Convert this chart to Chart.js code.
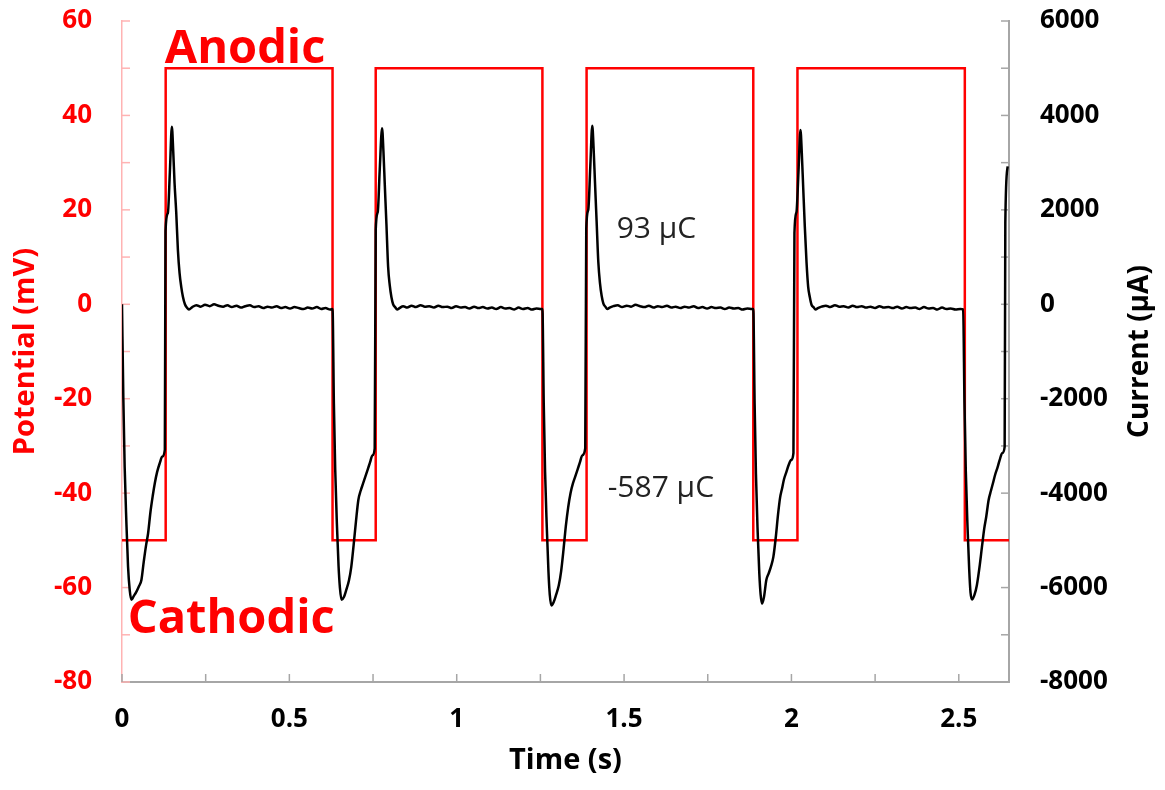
<!DOCTYPE html>
<html>
<head>
<meta charset="utf-8">
<script src="https://cdn.jsdelivr.net/npm/chart.js@4.4.1/dist/chart.umd.min.js"></script>
<style>
  body { margin: 0; background: #fff; }
</style>
</head>
<body>
<canvas id="myChart" width="1165" height="790"></canvas>
<script>
// square wave potential (mV): each value holds until the next time
const potentialTime = [0, 0.1305, 0.629, 0.758, 1.256, 1.388, 1.886, 2.018, 2.518, 2.65];
const potentialMv = [-50, 50, -50, 50, -50, 50, -50, 50, -50, -50];

// measured current (µA), one row per phase
const currentTime = [
  0, 0.004, 0.008, 0.013, 0.018, 0.023, 0.028, 0.035, 0.042, 0.050, 0.058, 0.065, 0.072, 0.078, 0.085, 0.092, 0.098, 0.105, 0.113, 0.120, 0.128,
  0.130, 0.137, 0.143, 0.149, 0.153, 0.157, 0.162, 0.167, 0.172, 0.177, 0.182, 0.188, 0.194, 0.200,
  0.210, 0.222, 0.235, 0.248, 0.262, 0.275, 0.288, 0.302, 0.315, 0.328, 0.342, 0.355, 0.368, 0.382, 0.395, 0.408, 0.422, 0.435, 0.448, 0.462, 0.475, 0.488, 0.502, 0.515, 0.528, 0.542, 0.555, 0.568, 0.582, 0.595, 0.608, 0.622,
  0.629, 0.633, 0.637, 0.642, 0.647, 0.651, 0.656, 0.663, 0.670, 0.678, 0.685, 0.692, 0.699, 0.706, 0.713, 0.720, 0.727, 0.734, 0.741, 0.748, 0.755,
  0.758, 0.764, 0.770, 0.777, 0.781, 0.785, 0.790, 0.795, 0.800, 0.805, 0.810, 0.816, 0.822, 0.829,
  0.840, 0.852, 0.865, 0.878, 0.892, 0.905, 0.918, 0.932, 0.945, 0.958, 0.972, 0.985, 0.998, 1.012, 1.025, 1.038, 1.052, 1.065, 1.078, 1.092, 1.105, 1.118, 1.132, 1.145, 1.158, 1.172, 1.185, 1.198, 1.212, 1.225, 1.238, 1.252,
  1.256, 1.260, 1.264, 1.269, 1.274, 1.278, 1.283, 1.290, 1.297, 1.305, 1.312, 1.319, 1.326, 1.333, 1.340, 1.347, 1.354, 1.361, 1.368, 1.375, 1.384,
  1.387, 1.393, 1.399, 1.405, 1.409, 1.413, 1.418, 1.423, 1.428, 1.433, 1.438, 1.444, 1.450, 1.457,
  1.468, 1.481, 1.494, 1.508, 1.521, 1.534, 1.548, 1.561, 1.574, 1.588, 1.601, 1.614, 1.628, 1.641, 1.654, 1.668, 1.681, 1.694, 1.708, 1.721, 1.734, 1.748, 1.761, 1.774, 1.788, 1.801, 1.814, 1.828, 1.841, 1.854, 1.868, 1.882,
  1.886, 1.890, 1.894, 1.899, 1.904, 1.908, 1.912, 1.918, 1.925, 1.932, 1.939, 1.946, 1.953, 1.960, 1.966, 1.972, 1.978, 1.985, 1.992, 1.999, 2.006,
  2.009, 2.015, 2.021, 2.027, 2.031, 2.035, 2.040, 2.045, 2.050, 2.055, 2.060, 2.066, 2.072, 2.079,
  2.090, 2.103, 2.116, 2.130, 2.143, 2.156, 2.170, 2.183, 2.196, 2.210, 2.223, 2.236, 2.250, 2.263, 2.276, 2.290, 2.303, 2.316, 2.330, 2.343, 2.356, 2.370, 2.383, 2.396, 2.410, 2.423, 2.436, 2.450, 2.463, 2.476, 2.490, 2.505,
  2.513, 2.517, 2.521, 2.526, 2.531, 2.535, 2.540, 2.547, 2.554, 2.562, 2.569, 2.576, 2.582, 2.589, 2.596, 2.602, 2.609, 2.616, 2.622, 2.630, 2.637, 2.639, 2.646
];
const currentUa = [
  0, -2000, -3450, -4600, -5550, -6050, -6260, -6180, -6100, -5980, -5840, -5450, -5100, -4850, -4400, -4050, -3790, -3550, -3360, -3230, -3080,
  1550, 1930, 2800, 3760, 3250, 2570, 1950, 1150, 660, 370, 160, 0, -70, -110,
  -60, -20, -50, -10, -40, 0, -30, -50, -20, -60, -30, -70, -40, -20, -60, -40, -80, -50, -70, -40, -80, -60, -90, -60, -80, -100, -70, -90, -60, -100, -80, -110,
  -100, -2100, -3500, -4650, -5550, -6000, -6260, -6200, -6050, -5850, -5560, -5100, -4600, -4150, -3950, -3800, -3650, -3500, -3350, -3200, -3050,
  1570, 1950, 2850, 3730, 3250, 2550, 1700, 800, 400, 150, 0, -60, -110, -80,
  -40, -70, -30, -60, -20, -50, -40, -70, -30, -60, -50, -80, -40, -70, -60, -90, -50, -80, -60, -90, -70, -100, -60, -90, -80, -110, -70, -100, -80, -110, -90, -100,
  -100, -2100, -3550, -4700, -5650, -6150, -6380, -6300, -6150, -5950, -5650, -5200, -4700, -4300, -4000, -3800, -3650, -3500, -3350, -3200, -3050,
  1600, 2000, 2900, 3780, 3300, 2600, 1750, 900, 450, 180, 20, -50, -100, -70,
  -40, -20, -60, -30, -50, -10, -40, -60, -30, -70, -40, -60, -30, -70, -50, -80, -50, -70, -40, -80, -60, -90, -60, -80, -70, -100, -70, -90, -80, -110, -90, -100,
  -100, -2100, -3600, -4800, -5700, -6150, -6340, -6200, -5840, -5700, -5550, -5350, -4950, -4450, -4100, -3900, -3700, -3550, -3400, -3300, -3150,
  1510, 1950, 2800, 3690, 3200, 2500, 1640, 900, 370, 150, -10, -60, -110, -80,
  -50, -30, -60, -20, -50, -40, -70, -30, -60, -40, -70, -50, -80, -40, -70, -60, -80, -50, -90, -60, -80, -70, -100, -60, -90, -80, -110, -70, -100, -90, -110, -100,
  -110, -2100, -3550, -4700, -5600, -6100, -6250, -6150, -5950, -5560, -5150, -4750, -4500, -4150, -3950, -3790, -3600, -3450, -3300, -3150, -3020, 1720, 2920
];

const potentialTicks = { min: -80, max: 60, step: 10, labelEvery: 20 };
const currentTicks = { min: -8000, max: 6000, step: 1000, labelEvery: 2000 };
const timeTicks = { min: 0, max: 2.65, step: 0.25, labelEvery: 0.5 };

const FONT = "'Open Sans', 'Liberation Sans', sans-serif";

function every(n) {
  return function (v) {
    const r = v / n;
    return Math.abs(r - Math.round(r)) < 1e-6 ? String(+v.toFixed(2)) : "";
  };
}

// tick marks pointing into the plot, like the spreadsheet original
const innerTicks = {
  id: "innerTicks",
  beforeDatasetsDraw(chart) {
    const { ctx, chartArea: a, scales } = chart;
    const len = 8;
    ctx.save();
    ctx.lineWidth = 1.5;
    ctx.strokeStyle = "#ffb3b3";
    scales.y.ticks.forEach((t) => {
      const y = scales.y.getPixelForValue(t.value);
      ctx.beginPath(); ctx.moveTo(a.left, y); ctx.lineTo(a.left + len, y); ctx.stroke();
    });
    ctx.strokeStyle = "#a6a6a6";
    scales.y2.ticks.forEach((t) => {
      const y = scales.y2.getPixelForValue(t.value);
      ctx.beginPath(); ctx.moveTo(a.right, y); ctx.lineTo(a.right - len, y); ctx.stroke();
    });
    scales.x.ticks.forEach((t) => {
      const x = scales.x.getPixelForValue(t.value);
      ctx.beginPath(); ctx.moveTo(x, a.bottom); ctx.lineTo(x, a.bottom - len); ctx.stroke();
    });
    ctx.restore();
  },
  afterDatasetsDraw(chart) {
    const { ctx, chartArea: a, scales } = chart;
    const x = scales.x, y = scales.y;
    ctx.save();
    ctx.textBaseline = "alphabetic";
    ctx.textAlign = "left";
    ctx.fillStyle = "#ff0000";
    ctx.font = "bold 47px " + FONT;
    ctx.fillText("Anodic", x.getPixelForValue(0.1276), y.getPixelForValue(51.1));
    ctx.fillText("Cathodic", x.getPixelForValue(0.017), y.getPixelForValue(-69.6));
    ctx.fillStyle = "#222";
    ctx.font = "30px " + FONT;
    ctx.fillText("93 \u00b5C", x.getPixelForValue(1.478), y.getPixelForValue(14.0));
    ctx.fillText("-587 \u00b5C", x.getPixelForValue(1.451), y.getPixelForValue(-40.8));
    // right axis title reads bottom-to-top
    ctx.translate(1140, (a.top + a.bottom) / 2);
    ctx.rotate(-Math.PI / 2);
    ctx.textAlign = "center";
    ctx.textBaseline = "middle";
    ctx.fillStyle = "#000";
    ctx.font = "bold 28px " + FONT;
    ctx.fillText("Current (\u00b5A)", 0, 0);
    ctx.restore();
  },
};

function noOverhang(s, w) {
  s.width = w;
  s.paddingTop = 0;
  s.paddingBottom = 0;
}

const ctx = document.getElementById("myChart");
const myChart = new Chart(ctx, {
  type: "line",
  data: {
    datasets: [
      {
        label: "Current",
        data: currentTime.map((t, i) => ({ x: t, y: currentUa[i] })),
        yAxisID: "y2",
        borderColor: "#000",
        borderWidth: 2.5,
        pointRadius: 0,
        cubicInterpolationMode: "monotone",
        order: 0,
      },
      {
        label: "Potential",
        data: potentialTime.map((t, i) => ({ x: t, y: potentialMv[i] })),
        yAxisID: "y",
        borderColor: "#ff0000",
        borderWidth: 2.5,
        pointRadius: 0,
        stepped: "before",
        order: 1,
      },
    ],
  },
  options: {
    responsive: false,
    animation: false,
    layout: { padding: { top: 21, left: 0, right: 0, bottom: 0 } },
    plugins: {
      legend: { display: false },
      tooltip: { enabled: false },
    },
    scales: {
      x: {
        type: "linear",
        min: timeTicks.min,
        max: timeTicks.max,
        grid: { drawOnChartArea: false, drawTicks: false },
        border: { color: "#a6a6a6", width: 2 },
        ticks: {
          stepSize: timeTicks.step,
          includeBounds: false,
          autoSkip: false,
          maxRotation: 0,
          padding: 22,
          color: "#000",
          font: { family: FONT, size: 26, weight: "bold" },
          callback: every(timeTicks.labelEvery),
        },
        title: {
          display: true,
          text: "Time (s)",
          color: "#000",
          font: { family: FONT, size: 29, weight: "bold" },
          padding: { top: 0, bottom: 12 },
        },
        afterFit: (s) => { s.height = 108; },
      },
      y: {
        position: "left",
        min: potentialTicks.min,
        max: potentialTicks.max,
        grid: { drawOnChartArea: false, drawTicks: false },
        border: { color: "#ffb3b3", width: 1.5 },
        ticks: {
          stepSize: potentialTicks.step,
          autoSkip: false,
          padding: 30,
          color: "#ff0000",
          font: { family: FONT, size: 26, weight: "bold" },
          callback: every(potentialTicks.labelEvery),
        },
        title: {
          display: true,
          text: "Potential (mV)",
          color: "#ff0000",
          font: { family: FONT, size: 29, weight: "bold" },
          padding: { top: 8, bottom: 0 },
        },
        afterFit: (s) => noOverhang(s, 122),
      },
      y2: {
        position: "right",
        min: currentTicks.min,
        max: currentTicks.max,
        grid: { drawOnChartArea: false, drawTicks: false },
        border: { color: "#a6a6a6", width: 2 },
        ticks: {
          stepSize: currentTicks.step,
          autoSkip: false,
          padding: 31,
          color: "#000",
          font: { family: FONT, size: 26, weight: "bold" },
          callback: every(currentTicks.labelEvery),
        },
        afterFit: (s) => noOverhang(s, 156),
      },
    },
  },
  plugins: [innerTicks],
});
</script>
</body>
</html>
